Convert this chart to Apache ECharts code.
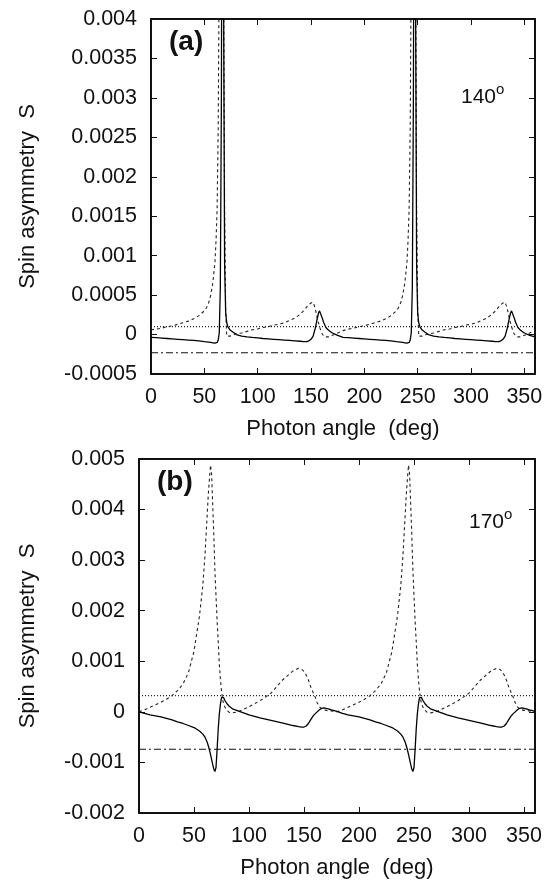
<!DOCTYPE html>
<html>
<head>
<meta charset="utf-8">
<script src="https://cdn.jsdelivr.net/npm/echarts@6/dist/echarts.min.js"></script>
<style>
html,body{margin:0;padding:0;background:#fff;}
#main{width:550px;height:881px;}
</style>
</head>
<body>
<div id="main"></div>
<script>
// ---------- Panel (a): 140 deg ----------
var angleA = [0,5,10,15,20,25,30,35,40,45,50,52,54,56,58,60,61,62,63,64,65,66,67,68,69,70,71,72,74,76,78,80,85,90,95,100,105,110,115,120,125,130,135,140,143,146,148,150,152,154,156,157,158,159,160,162,164,166,168,170,175,
  180,185,190,195,200,205,210,215,220,225,230,232,234,236,238,240,241,242,243,244,245,246,247,248,249,250,251,252,254,256,258,260,265,270,275,280,285,290,295,300,305,310,315,320,323,326,328,330,332,334,336,337,338,339,340,342,344,346,348,350,355,360];
var solidA = [-0.000035,-0.00004,-0.000045,-0.00005,-0.000055,-0.00006,-0.000065,-0.00007,-0.000075,-0.00008,-0.00009,-0.000093,-0.000096,-0.0001,-0.000105,-0.00011,-0.00011,-0.0001,-0.00007,0.00002,0.0006,0.003,0.009,0.0045,0.0009,0.00028,0.00015,0.0001,0.00006,0.00004,0.00002,0.0,-0.00002,-0.00003,-0.000037,-0.000043,-0.00005,-0.000055,-0.00006,-0.000065,-0.00007,-0.000075,-0.00008,-0.000085,-0.00009,-0.00009,-0.00008,-0.00006,-0.00002,0.00008,0.00021,0.00027,0.0003,0.00028,0.00023,0.00015,0.00009,0.00006,0.00004,0.00002,-0.00001,
  -0.000035,-0.00004,-0.000045,-0.00005,-0.000055,-0.00006,-0.000065,-0.00007,-0.000075,-0.00008,-0.00009,-0.000093,-0.000096,-0.0001,-0.000105,-0.00011,-0.00011,-0.0001,-0.00007,0.00002,0.0006,0.003,0.009,0.0045,0.0009,0.00028,0.00015,0.0001,0.00006,0.00004,0.00002,0.0,-0.00002,-0.00003,-0.000037,-0.000043,-0.00005,-0.000055,-0.00006,-0.000065,-0.00007,-0.000075,-0.00008,-0.000085,-0.00009,-0.00009,-0.00008,-0.00006,-0.00002,0.00008,0.00021,0.00027,0.0003,0.00028,0.00023,0.00015,0.00009,0.00006,0.00004,0.00002,-0.00001,-0.00003];
var dashedA = [0.00006,0.00007,0.00008,0.0001,0.00011,0.00013,0.00015,0.00017,0.0002,0.00024,0.0003,0.00034,0.0004,0.0005,0.00066,0.00092,0.0012,0.0016,0.0026,0.0048,0.009,0.012,0.009,0.0048,0.0016,0.0003,-0.00002,-0.00003,-0.00002,-0.00001,0.0,0.00001,0.00002,0.00004,0.00006,0.00007,0.00009,0.0001,0.00012,0.00013,0.00015,0.00018,0.00021,0.00026,0.0003,0.00035,0.00038,0.0004,0.00041,0.00033,0.0002,0.00015,0.0001,0.00006,0.00002,-0.00002,-0.00003,-0.00003,-0.00002,-0.00001,0.00002,
  0.00005,0.00007,0.00008,0.0001,0.00011,0.00013,0.00015,0.00017,0.0002,0.00024,0.0003,0.00034,0.0004,0.0005,0.00066,0.00092,0.0012,0.0016,0.0026,0.0048,0.009,0.012,0.009,0.0048,0.0016,0.0003,-0.00002,-0.00003,-0.00002,-0.00001,0.0,0.00001,0.00002,0.00004,0.00006,0.00007,0.00009,0.0001,0.00012,0.00013,0.00015,0.00018,0.00021,0.00026,0.0003,0.00035,0.00038,0.0004,0.00041,0.00033,0.0002,0.00015,0.0001,0.00006,0.00002,-0.00002,-0.00003,-0.00003,-0.00002,-0.00001,0.00002,0.00005];
var dottedLevelA = 0.0001;
var dashDotLevelA = -0.00023;

// ---------- Panel (b): 170 deg ----------
var angleB = [0,5,10,15,20,25,30,35,40,45,50,55,58,60,62,63,64,65,66,67,68,69,70,71,72,73,74,75,76,77,78,80,82,85,90,95,100,110,120,130,140,145,148,150,152,154,156,158,160,162,164,166,168,170,172,175,
  180,185,190,195,200,205,210,215,220,225,230,235,238,240,242,243,244,245,246,247,248,249,250,251,252,253,254,255,256,257,258,260,262,265,270,275,280,290,300,310,320,325,328,330,332,334,336,338,340,342,344,346,348,350,352,355,360];
var solidB = [0.0,-0.00003,-0.00006,-0.00008,-0.0001,-0.00013,-0.00016,-0.0002,-0.00023,-0.00027,-0.00031,-0.00038,-0.00044,-0.0005,-0.0006,-0.00067,-0.00075,-0.00084,-0.00094,-0.00104,-0.00113,-0.00118,-0.0011,-0.00075,-0.00035,-0.00005,0.00015,0.00028,0.00031,0.00028,0.00023,0.00016,0.00011,0.00006,0.00002,-0.00002,-0.00006,-0.00012,-0.00017,-0.00022,-0.00027,-0.00029,-0.0003,-0.0003,-0.00028,-0.00023,-0.00016,-0.00009,-0.00004,0.0,0.00004,0.00007,0.00008,0.00007,0.00006,0.00004,
  0.00001,-0.00003,-0.00006,-0.00008,-0.0001,-0.00013,-0.00016,-0.0002,-0.00023,-0.00027,-0.00031,-0.00038,-0.00044,-0.0005,-0.0006,-0.00067,-0.00075,-0.00084,-0.00094,-0.00104,-0.00113,-0.00118,-0.0011,-0.00075,-0.00035,-0.00005,0.00015,0.00028,0.00031,0.00028,0.00023,0.00016,0.00011,0.00006,0.00002,-0.00002,-0.00006,-0.00012,-0.00017,-0.00022,-0.00027,-0.00029,-0.0003,-0.0003,-0.00028,-0.00023,-0.00016,-0.00009,-0.00004,0.0,0.00004,0.00007,0.00008,0.00007,0.00006,0.00004,0.00001];
var dashedB = [0.0,0.00004,0.00009,0.00014,0.00019,0.00025,0.00032,0.00042,0.00055,0.00078,0.0012,0.0019,0.0025,0.0031,0.0039,0.0043,0.0046,0.00488,0.0047,0.0041,0.0035,0.0028,0.0023,0.0018,0.0014,0.00095,0.00065,0.00042,0.00025,0.00015,0.0001,0.00003,-0.00001,-0.00002,0.0,0.00005,0.0001,0.00022,0.00037,0.00062,0.00081,0.00086,0.00084,0.0008,0.00073,0.00063,0.0005,0.0004,0.0003,0.00018,0.0001,0.00006,0.00004,0.00003,0.00002,0.00002,
  0.0,0.00004,0.00009,0.00014,0.00019,0.00025,0.00032,0.00042,0.00055,0.00078,0.0012,0.0019,0.0025,0.0031,0.0039,0.0043,0.0046,0.00488,0.0047,0.0041,0.0035,0.0028,0.0023,0.0018,0.0014,0.00095,0.00065,0.00042,0.00025,0.00015,0.0001,0.00003,-0.00001,-0.00002,0.0,0.00005,0.0001,0.00022,0.00037,0.00062,0.00081,0.00086,0.00084,0.0008,0.00073,0.00063,0.0005,0.0004,0.0003,0.00018,0.0001,0.00006,0.00004,0.00003,0.00002,0.00002,0.0];
var dottedLevelB = 0.00032;
var dashDotLevelB = -0.00074;

var xRange = [0, 360];
var xTickStep = 50;
var yRangeA = [-0.0005, 0.004], yStepA = 0.0005;
var yRangeB = [-0.002, 0.005], yStepB = 0.001;
var xTitle = 'Photon angle  (deg)';
var yTitle = 'Spin asymmetry  S';

function pairs(xs, ys){ return xs.map(function(x,i){ return [x, ys[i]]; }); }
function level(v){ return [[xRange[0], v],[xRange[1], v]]; }
function fmt(v){ return parseFloat(v.toFixed(6)).toString(); }

var FONT = 'Liberation Sans';
var chart = echarts.init(document.getElementById('main'), null, {renderer:'canvas'});

function xAx(grid, showLabel){
  return {
    type:'value', gridIndex:grid, min:xRange[0], max:xRange[1], interval:xTickStep,
    position: showLabel ? 'bottom' : 'top',
    name: showLabel ? xTitle : '', nameLocation:'middle', nameGap:44,
    nameTextStyle:{fontFamily:FONT, fontSize:22, color:'#111'},
    axisLine:{show:true, onZero:false, lineStyle:{color:'#111', width:2}},
    axisTick:{show:true, inside:true, length:6, lineStyle:{color:'#111', width:1}},
    axisLabel:{show:showLabel, fontFamily:FONT, fontSize:21.5, color:'#111', margin:12,
      showMaxLabel:false},
    splitLine:{show:false}
  };
}
function yAx(grid, showLabel, range, step, gap){
  return {
    type:'value', gridIndex:grid, min:range[0], max:range[1], interval:step,
    position: showLabel ? 'left' : 'right',
    name: showLabel ? yTitle : '', nameLocation:'middle', nameGap:gap, nameRotate:90,
    nameTextStyle:{fontFamily:FONT, fontSize:22, color:'#111'},
    axisLine:{show:true, onZero:false, lineStyle:{color:'#111', width:2}},
    axisTick:{show:true, inside:true, length:6, lineStyle:{color:'#111', width:1}},
    axisLabel:{show:showLabel, fontFamily:FONT, fontSize:21.5, color:'#111', margin:14,
      formatter:function(v){ return fmt(v); }},
    splitLine:{show:false}
  };
}
function lineSeries(xi, yi, data, style, width, color){
  return {type:'line', xAxisIndex:xi, yAxisIndex:yi, data:data, showSymbol:false, symbol:'none',
    clip:true, silent:true, animation:false,
    lineStyle:{color:color, width:width, type:style}};
}

var option = {
  animation:false,
  backgroundColor:'#fff',
  grid:[
    {left:151, right:15, top:19, height:355},
    {left:139, right:15, top:459, height:354}
  ],
  xAxis:[ xAx(0,true), xAx(0,false), xAx(1,true), xAx(1,false) ],
  yAxis:[ yAx(0,true,yRangeA,yStepA,112), yAx(0,false,yRangeA,yStepA,0),
          yAx(1,true,yRangeB,yStepB,100), yAx(1,false,yRangeB,yStepB,0) ],
  series:[
    lineSeries(0,0, level(dottedLevelA), [1,2], 1.2, '#222'),
    lineSeries(0,0, level(dashDotLevelA), [7,3,2,3], 1.1, '#111'),
    lineSeries(0,0, pairs(angleA, dashedA), [3,3], 1.1, '#222'),
    lineSeries(0,0, pairs(angleA, solidA), 'solid', 1.3, '#000'),
    lineSeries(2,2, level(dottedLevelB), [1,2], 1.2, '#222'),
    lineSeries(2,2, level(dashDotLevelB), [7,3,2,3], 1.1, '#111'),
    lineSeries(2,2, pairs(angleB, dashedB), [3,3], 1.1, '#222'),
    lineSeries(2,2, pairs(angleB, solidB), 'solid', 1.3, '#000')
  ],
  graphic:[
    {type:'text', left:169, top:28, style:{text:'(a)', font:'bold 28px "Liberation Sans"', fill:'#111'}},
    {type:'text', left:461, top:87, style:{text:'140', font:'21px "Liberation Sans"', fill:'#111'}},
    {type:'text', left:496, top:82, style:{text:'o', font:'15px "Liberation Sans"', fill:'#111'}},
    {type:'text', left:157, top:468, style:{text:'(b)', font:'bold 28px "Liberation Sans"', fill:'#111'}},
    {type:'text', left:469, top:512, style:{text:'170', font:'21px "Liberation Sans"', fill:'#111'}},
    {type:'text', left:504, top:507, style:{text:'o', font:'15px "Liberation Sans"', fill:'#111'}}
  ]
};
chart.setOption(option);
</script>
</body>
</html>
